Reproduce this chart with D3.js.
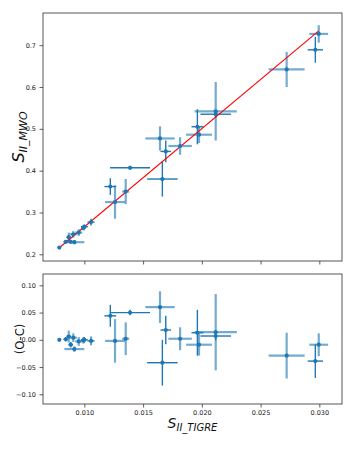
<!DOCTYPE html>
<html>
<head>
<meta charset="utf-8">
<script src="https://cdn.jsdelivr.net/npm/d3@7"></script>
<style>
  body { margin: 0; background: #fff; }
  svg text { font-family: "DejaVu Sans", sans-serif; }
</style>
</head>
<body>
<script>

// data
var sTigre = [0.00787, 0.00842, 0.00867, 0.00884, 0.00906, 0.00915, 0.00952, 0.00992, 0.0100, 0.01057,
              0.01221, 0.01389, 0.01261, 0.01352, 0.01644, 0.01693, 0.01664, 0.01815, 0.01962, 0.01976,
              0.02118, 0.02118, 0.02722, 0.02995, 0.02966];
var sMwo   = [0.216, 0.230, 0.241, 0.230, 0.248, 0.229, 0.252, 0.263, 0.266, 0.277,
              0.362, 0.407, 0.325, 0.350, 0.477, 0.446, 0.380, 0.459, 0.505, 0.486,
              0.542, 0.535, 0.642, 0.727, 0.689];
var resid  = [0.000, 0.001, 0.006, -0.009, 0.004, -0.017, -0.003, -0.001, 0.000, -0.002,
              0.044, 0.050, -0.002, 0.002, 0.060, 0.018, -0.042, 0.002, 0.013, -0.009,
              0.014, 0.007, -0.029, -0.009, -0.039];
var xErr   = [0.0001, 0.0002, 0.0002, 0.0002, 0.0003, 0.00085, 0.0003, 0.0002, 0.0003, 0.0003,
              0.0005, 0.0017, 0.00085, 0.0003, 0.00125, 0.00045, 0.0013, 0.001, 0.0005, 0.0011,
              0.0018, 0.0013, 0.00153, 0.0008, 0.00065];
var yErr   = [0.003, 0.004, 0.011, 0.005, 0.008, 0.005, 0.008, 0.006, 0.005, 0.008,
              0.02, 0.005, 0.04, 0.03, 0.029, 0.026, 0.042, 0.021, 0.042, 0.02,
              0.07, 0.008, 0.042, 0.021, 0.031];
// "a" = dark thin bars, "b" = pale thick bars
var barStyle = ["a", "a", "b", "a", "b", "b", "b", "b", "a", "a",
                "a", "a", "b", "b", "b", "a", "a", "b", "a", "b",
                "b", "a", "b", "b", "a"];
var fitSlope = 23.48, fitIntercept = 0.031;

var topTicks = [0.2, 0.3, 0.4, 0.5, 0.6, 0.7];
var botTicks = [0.10, 0.05, 0.00, -0.05, -0.10];
var xTicks = [0.010, 0.015, 0.020, 0.025, 0.030];

var data = sTigre.map(function(d, i) {
  return {x: d, y: sMwo[i], r: resid[i], xe: xErr[i], ye: yErr[i], s: barStyle[i]};
});

var W = 360, H = 450;
var left = 43, right = 342;
var topP = {top: 13, bottom: 261};
var botP = {top: 274, bottom: 404};
var blue = "#1f77b4";

var svg = d3.select("body").append("svg")
    .attr("width", W)
    .attr("height", H);

var x = d3.scaleLinear().domain([0.00648, 0.03193]).range([left, right]);
var yTop = d3.scaleLinear().domain([0.184, 0.777]).range([topP.bottom, topP.top]);
var yBot = d3.scaleLinear().domain([-0.1178, 0.1208]).range([botP.bottom, botP.top]);

var fmtMinus = function(f) {
  return function(d) { return f(d).replace("-", "\u2212"); };
};

function drawPanel(yScale, yTicks, yFmt, box, showXLabels, yKey) {
  var g = svg.append("g");

  // axes
  var ax = g.append("g")
      .attr("transform", "translate(0," + box.bottom + ")")
      .call(d3.axisBottom(x).tickValues(xTicks).tickSize(3.5).tickPadding(3)
        .tickFormat(showXLabels ? d3.format(".3f") : ""));
  var ay = g.append("g")
      .attr("transform", "translate(" + left + ",0)")
      .call(d3.axisLeft(yScale).tickValues(yTicks).tickSize(3.5).tickPadding(3.5).tickFormat(yFmt));
  [ax, ay].forEach(function(a) {
    a.select(".domain").remove();
    a.selectAll("line").attr("stroke", "#333").attr("stroke-width", 0.8);
    a.selectAll("text").attr("font-size", 6.5).attr("fill", "#222");
  });

  // frame
  g.append("rect")
      .attr("x", left).attr("y", box.top)
      .attr("width", right - left).attr("height", box.bottom - box.top)
      .attr("fill", "none").attr("stroke", "#444").attr("stroke-width", 0.9);

  var pts = g.append("g").selectAll("g")
      .data(data)
      .enter().append("g");

  pts.append("line")
      .attr("x1", function(d) { return x(d.x - d.xe); })
      .attr("x2", function(d) { return x(d.x + d.xe); })
      .attr("y1", function(d) { return yScale(d[yKey]); })
      .attr("y2", function(d) { return yScale(d[yKey]); });
  pts.append("line")
      .attr("x1", function(d) { return x(d.x); })
      .attr("x2", function(d) { return x(d.x); })
      .attr("y1", function(d) { return yScale(d[yKey] - d.ye); })
      .attr("y2", function(d) { return yScale(d[yKey] + d.ye); });
  pts.selectAll("line")
      .attr("stroke", blue)
      .attr("stroke-width", function(d) { return d.s == "a" ? 1.4 : 2.2; })
      .attr("stroke-opacity", function(d) { return d.s == "a" ? 1 : 0.62; });

  return g;
}

var gTop = drawPanel(yTop, topTicks, d3.format(".1f"), topP, false, "y");

// fitted line
var xr = d3.extent(sTigre);
gTop.append("path")
    .attr("d", d3.line()
      .x(function(d) { return x(d); })
      .y(function(d) { return yTop(fitSlope * d + fitIntercept); })(xr))
    .attr("stroke", "red")
    .attr("stroke-width", 1.1)
    .attr("fill", "none");

gTop.append("g").selectAll("circle")
    .data(data).enter().append("circle")
    .attr("cx", function(d) { return x(d.x); })
    .attr("cy", function(d) { return yTop(d.y); })
    .attr("r", 2.1)
    .attr("fill", blue);

var gBot = drawPanel(yBot, botTicks, fmtMinus(d3.format(".2f")), botP, true, "r");
gBot.append("g").selectAll("circle")
    .data(data).enter().append("circle")
    .attr("cx", function(d) { return x(d.x); })
    .attr("cy", function(d) { return yBot(d.r); })
    .attr("r", 2.1)
    .attr("fill", blue);

//axis labels
var yl = svg.append("text")
    .attr("transform", "translate(24," + ((topP.top + topP.bottom) / 2) + ") rotate(-90)")
    .attr("text-anchor", "middle")
    .attr("font-style", "italic")
    .attr("fill", "#111");
yl.append("tspan").attr("font-size", 16).text("S");
yl.append("tspan").attr("font-size", 11).attr("dy", 3).text("II_MWO");

svg.append("text")
    .attr("transform", "translate(24," + ((botP.top + botP.bottom) / 2) + ") rotate(-90)")
    .attr("text-anchor", "middle")
    .attr("font-size", 11.5)
    .attr("fill", "#111")
    .text("(O-C)");

var xl = svg.append("text")
    .attr("x", (left + right) / 2)
    .attr("y", 428)
    .attr("text-anchor", "middle")
    .attr("font-style", "italic")
    .attr("fill", "#111");
xl.append("tspan").attr("font-size", 14).text("S");
xl.append("tspan").attr("font-size", 10).attr("dy", 3).text("II_TIGRE");

</script>
</body>
</html>
